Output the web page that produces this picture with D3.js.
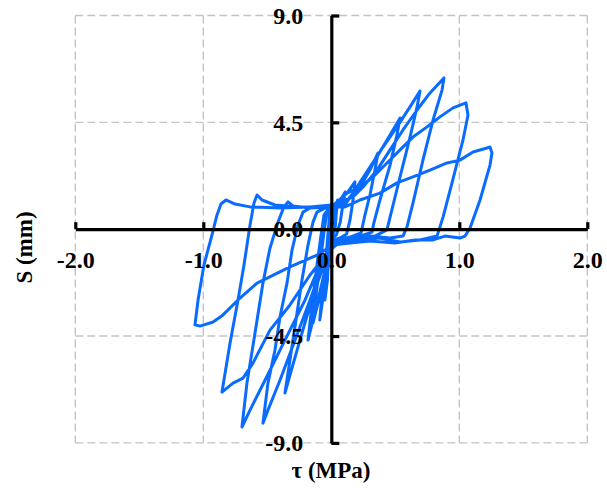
<!DOCTYPE html>
<html>
<head>
<meta charset="utf-8">
<script src="https://cdn.jsdelivr.net/npm/d3@7"></script>
<style>
  html, body { margin: 0; padding: 0; background: #fff; }
  svg { display: block; }
  .lbl { font-family: "Liberation Serif", "Times New Roman", serif; font-weight: bold; fill: #000; }
</style>
</head>
<body>
<svg id="chart" width="607" height="495"></svg>
<script>
// Axis ticks
const xTicks = [-2.0, -1.0, 0.0, 1.0, 2.0];
const yTicks = [-9.0, -4.5, 0.0, 4.5, 9.0];
const xTitle = "τ (MPa)";
const yTitle = "S (mm)";

// Hysteresis loops [τ (MPa), S (mm)], in loading order
const cycle1 = [[0,0],[0.02,0.6],[0.05,1.23],[0.04,0.72],[0.03,0.05],[0.01,-0.29],[-0.01,-0.88],[-0.03,-1.93],[-0.05,-2.98],[-0.03,-2.14],[-0.02,-0.88],[0,0.3],[0,0.72]];
const cycle2 = [[0.01,0.81],[0.07,1.23],[0.11,1.57],[0.09,1.02],[0.07,0.30],[0.04,-0.24],[0.01,-0.37],[-0.01,-1.09],[-0.05,-2.36],[-0.09,-3.82],[-0.07,-2.57],[-0.04,-1.09],[-0.02,0.18],[-0.01,0.81]];
const cycle3 = [[0.01,0.89],[0.07,1.23],[0.13,1.57],[0.185,1.99],[0.17,1.23],[0.146,0.39],[0.12,-0.2],[0.068,-0.37],[0.013,-0.45],[-0.026,-1.38],[-0.088,-2.78],[-0.143,-3.95],[-0.12,-2.78],[-0.088,-1.51],[-0.057,-0.12],[-0.034,0.72],[0,0.98]];
const cycle4 = [[0,0.98],[0.107,1.10],[0.224,1.78],[0.302,2.49],[0.365,3.21],[0.341,2.49],[0.302,1.44],[0.263,0.6],[0.232,-0.16],[0.146,-0.33],[0.029,-0.50],[-0.034,-1.38],[-0.104,-2.98],[-0.182,-4.67],[-0.151,-3.19],[-0.112,-1.51],[-0.08,-0.24],[-0.057,0.6],[-0.01,0.94]];
const cycle5 = [[0,0.94],[0.107,1.10],[0.224,1.86],[0.341,2.91],[0.459,3.97],[0.537,4.68],[0.513,3.97],[0.459,2.70],[0.38,1.23],[0.334,0.30],[0.318,-0.12],[0.224,-0.29],[0.107,-0.37],[0.02,-0.54],[-0.049,-1.38],[-0.143,-2.78],[-0.245,-4.67],[-0.323,-6.14],[-0.362,-6.90],[-0.323,-5.51],[-0.276,-3.82],[-0.229,-2.14],[-0.182,-0.67],[-0.143,0.3],[-0.112,0.72],[-0.049,0.89],[0,0.94]];
const cycle6 = [[0,0.94],[0.107,1.02],[0.185,1.65],[0.302,2.62],[0.404,3.46],[0.513,4.31],[0.615,5.15],[0.693,5.82],[0.67,5.15],[0.615,3.88],[0.537,2.20],[0.459,0.51],[0.435,-0.03],[0.341,-0.29],[0.224,-0.33],[0.107,-0.41],[0.013,-0.58],[-0.049,-1.21],[-0.166,-2.98],[-0.283,-4.67],[-0.401,-6.36],[-0.495,-7.62],[-0.534,-8.17],[-0.495,-6.48],[-0.440,-5.09],[-0.401,-3.70],[-0.346,-2.27],[-0.307,-0.88],[-0.26,0.18],[-0.221,0.72],[-0.166,0.89],[0,0.98]];
const cycle7 = [[0,0.98],[0.17,1.36],[0.248,1.78],[0.357,2.49],[0.459,3.34],[0.56,4.18],[0.67,5.02],[0.771,5.74],[0.88,6.37],[0.865,5.86],[0.795,4.60],[0.716,2.91],[0.638,1.10],[0.591,0.09],[0.56,-0.29],[0.459,-0.37],[0.302,-0.29],[0.146,-0.45],[0.029,-0.58],[-0.065,-1.21],[-0.205,-2.98],[-0.362,-4.67],[-0.518,-6.36],[-0.635,-7.62],[-0.698,-8.33],[-0.659,-6.48],[-0.596,-4.37],[-0.534,-2.27],[-0.479,-0.79],[-0.416,0.3],[-0.37,0.94],[-0.338,1.15],[-0.299,0.98],[-0.166,0.89],[0,0.94]];
const cycle8 = [[0,0.94],[0.123,1.52],[0.224,1.78],[0.326,2.20],[0.435,2.79],[0.537,3.34],[0.638,3.88],[0.748,4.31],[0.849,4.73],[0.951,5.11],[1.052,5.32],[1.068,4.81],[1.029,3.76],[0.943,1.95],[0.873,0.51],[0.826,-0.29],[0.693,-0.45],[0.537,-0.54],[0.38,-0.37],[0.224,-0.45],[0.068,-0.54],[-0.01,-0.88],[-0.166,-1.93],[-0.323,-3.19],[-0.479,-4.25],[-0.612,-5.64],[-0.690,-6.27],[-0.768,-6.48],[-0.854,-6.86],[-0.791,-4.79],[-0.729,-2.98],[-0.682,-1.51],[-0.635,0.18],[-0.604,1.10],[-0.58,1.44],[-0.541,1.23],[-0.44,1.02],[-0.245,0.94],[0,0.94]];
const cycle9 = [[0,0.94],[0.107,0.94],[0.224,1.23],[0.38,1.52],[0.513,1.95],[0.638,2.20],[0.771,2.49],[0.904,2.79],[1.005,2.91],[1.107,3.25],[1.216,3.42],[1.24,3.46],[1.255,3.21],[1.24,2.70],[1.162,1.23],[1.084,0.05],[1.045,-0.29],[1.005,-0.37],[0.888,-0.29],[0.795,-0.45],[0.654,-0.45],[0.498,-0.58],[0.302,-0.50],[0.146,-0.58],[0.013,-0.67],[-0.112,-1.09],[-0.323,-1.59],[-0.58,-2.27],[-0.713,-2.90],[-0.846,-3.61],[-0.924,-3.91],[-1.026,-4.08],[-1.065,-4.03],[-1.041,-2.98],[-0.995,-1.51],[-0.932,-0.24],[-0.893,0.6],[-0.862,1.06],[-0.823,1.23],[-0.752,1.06],[-0.635,0.94],[-0.401,0.89],[-0.166,0.94],[0,1.02]];

const cycles = [cycle1, cycle2, cycle3, cycle4, cycle5, cycle6, cycle7, cycle8, cycle9];
const path = cycles.flat();

const svg = d3.select("#chart");
const x = d3.scaleLinear().domain([-2, 2]).range([75.3, 587.3]);
const y = d3.scaleLinear().domain([-9, 9]).range([442.9, 15.5]);
const fmt = d => d3.format(".1f")(d).replace("\u2212", "-");

// Dashed grid (including outer frame)
const grid = svg.append("g")
  .attr("stroke", "#c4c4c4").attr("stroke-width", 1.4)
  .attr("stroke-dasharray", "8,4").attr("fill", "none");
grid.selectAll("line.v").data(xTicks.filter(d => d !== 0)).join("line")
  .attr("class", "v")
  .attr("x1", d => x(d)).attr("x2", d => x(d))
  .attr("y1", y(9)).attr("y2", y(-9));
grid.selectAll("line.h").data(yTicks.filter(d => d !== 0)).join("line")
  .attr("class", "h")
  .attr("x1", x(-2)).attr("x2", x(2))
  .attr("y1", d => y(d)).attr("y2", d => y(d));

// Data curve
const line = d3.line().x(d => x(d[0])).y(d => y(d[1]));
svg.append("path")
  .datum(path)
  .attr("d", line)
  .attr("fill", "none")
  .attr("stroke", "#0a6cff")
  .attr("stroke-width", 3)
  .attr("stroke-linejoin", "round")
  .attr("stroke-linecap", "round");

// X axis through origin
const xAxis = d3.axisBottom(x).tickValues(xTicks)
  .tickFormat(fmt).tickSizeInner(-7).tickSizeOuter(0).tickPadding(22);
const gx = svg.append("g").attr("transform", `translate(0,${y(0)})`).call(xAxis);
// Y axis through origin
const yAxis = d3.axisLeft(y).tickValues(yTicks)
  .tickFormat(fmt).tickSizeInner(-8).tickSizeOuter(0).tickPadding(28);
const gy = svg.append("g").attr("transform", `translate(${x(0)},0)`).call(yAxis);

[gx, gy].forEach(g => {
  g.select(".domain").attr("stroke", "#000").attr("stroke-width", 3.2);
  g.selectAll(".tick line").attr("stroke", "#000").attr("stroke-width", 3.2);
  g.selectAll(".tick text").attr("class", "lbl")
    .style("font-family", '"Liberation Serif", "Times New Roman", serif')
    .style("font-weight", "bold").style("font-size", "24px").attr("fill", "#000");
});

// Axis titles
svg.append("text").attr("class", "lbl")
  .attr("x", 331).attr("y", 478).attr("text-anchor", "middle")
  .style("font-size", "23px").text(xTitle);
svg.append("text").attr("class", "lbl")
  .attr("transform", "translate(32,247.5) rotate(-90)")
  .attr("text-anchor", "middle")
  .style("font-size", "23px").text(yTitle);
</script>
</body>
</html>
